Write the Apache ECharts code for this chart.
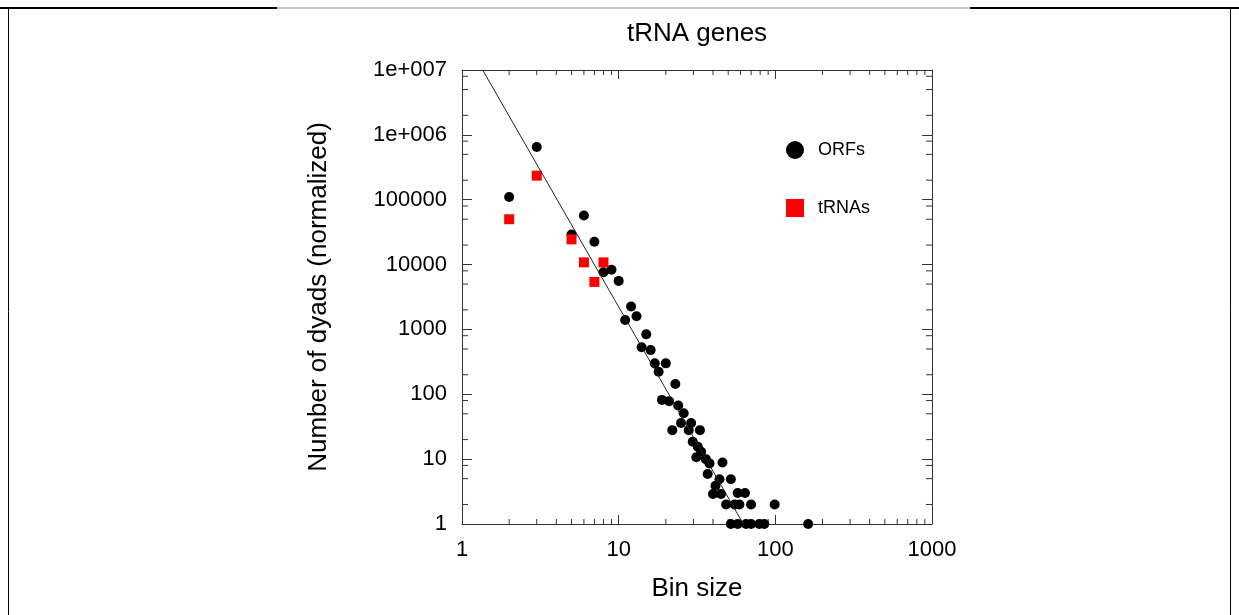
<!DOCTYPE html>
<html><head><meta charset="utf-8">
<script src="https://cdn.jsdelivr.net/npm/echarts@6/dist/echarts.min.js"></script>
<style>html,body{margin:0;padding:0;background:#fff}#c{width:1239px;height:615px}</style>
</head><body><div id="c"></div>
<script>
// ORFs (black circles)
const orfX = [2, 3, 5, 6, 7, 8, 9, 10, 11, 12, 13, 14, 15, 16, 17, 18, 18.9, 20, 21, 22, 23, 24, 25, 26, 28, 29, 29.7, 31.3, 32, 33, 33.6, 36, 37, 38, 40, 41.5, 44, 45, 46, 48.5, 52, 55, 57.5, 59, 64, 70, 99, 52, 57.5, 65, 70, 79, 85, 162];
const orfY = [110000, 650000, 29000, 57000, 22500, 7600, 8300, 5600, 1400, 2250, 1600, 530, 840, 480, 300, 223, 82, 300, 78, 28, 144, 67, 36, 51, 28, 36, 18.5, 10.7, 15.5, 28, 13, 10, 5.9, 8.6, 2.9, 3.9, 4.9, 2.9, 8.9, 2, 4.9, 2, 3, 2, 3, 2, 2, 1, 1, 1, 1, 1, 1, 1];
// tRNAs (red squares)
const trnaX = [2, 3, 5, 6, 7, 8];
const trnaY = [50000, 235000, 24500, 10800, 5400, 10800];
// fitted power-law line
const fitX = [1.355, 62.5];
const fitY = [10000000, 1];
// tick labels
const yTickLabels = ['1', '10', '100', '1000', '10000', '100000', '1e+006', '1e+007'];
const xTickLabels = ['1', '10', '100', '1000'];
const xMinorMult = [2, 3, 4, 5, 6, 7, 8, 9];
const yMinorMult = [2, 5, 8];

const xMinor = [];
[1, 10, 100].forEach(d => xMinorMult.forEach(m => xMinor.push([m * d, 1])));
const yMinor = [];
[1, 10, 100, 1000, 10000, 100000, 1000000].forEach(d => yMinorMult.forEach(m => yMinor.push([1, m * d])));

const FONT = 'Liberation Sans, Arial, sans-serif';
const AX = '#333';

const chart = echarts.init(document.getElementById('c'), null, {renderer: 'canvas'});
const option = {
  animation: false,
  backgroundColor: '#fff',
  title: {
    text: 'tRNA genes', left: 697, top: 21, textAlign: 'center', padding: 0,
    textStyle: {fontFamily: FONT, fontSize: 26, fontWeight: 'normal', color: '#000'}
  },
  legend: {
    orient: 'vertical', left: 786, top: 141, itemGap: 40, padding: 0,
    itemWidth: 18, itemHeight: 18,
    textStyle: {fontFamily: FONT, fontSize: 18, color: '#000', padding: [0, 0, 0, 9]},
    data: [
      {name: 'ORFs', icon: 'circle'},
      {name: 'tRNAs', icon: 'rect'}
    ]
  },
  grid: {left: 462, top: 70, width: 470, height: 454, containLabel: false},
  xAxis: [{
    type: 'log', logBase: 10, min: 1, max: 1000, splitNumber: 3,
    name: 'Bin size', nameLocation: 'middle', nameGap: 52,
    nameTextStyle: {fontFamily: FONT, fontSize: 26, color: '#000'},
    axisLine: {show: true, lineStyle: {color: AX, width: 1}},
    axisTick: {show: true, inside: true, length: 9, lineStyle: {color: AX}},
    axisLabel: {fontFamily: FONT, fontSize: 22, color: '#000', margin: 15,
      formatter: v => xTickLabels[Math.round(Math.log10(v))]},
    splitLine: {show: false}
  }, {
    type: 'log', logBase: 10, min: 1, max: 1000, splitNumber: 3, position: 'top',
    axisLine: {show: true, lineStyle: {color: AX, width: 1}},
    axisTick: {show: true, inside: true, length: 9, lineStyle: {color: AX}},
    axisLabel: {show: false}, splitLine: {show: false}
  }],
  yAxis: [{
    type: 'log', logBase: 10, min: 1, max: 10000000, splitNumber: 7,
    name: 'Number of dyads (normalized)', nameLocation: 'middle', nameGap: 130,
    nameTextStyle: {fontFamily: FONT, fontSize: 26, color: '#000'},
    axisLine: {show: true, lineStyle: {color: AX, width: 1}},
    axisTick: {show: true, inside: true, length: 10, lineStyle: {color: AX}},
    axisLabel: {fontFamily: FONT, fontSize: 22, color: '#000', margin: 15,
      formatter: v => yTickLabels[Math.round(Math.log10(v))]},
    splitLine: {show: false}
  }, {
    type: 'log', logBase: 10, min: 1, max: 10000000, splitNumber: 7, position: 'right',
    axisLine: {show: true, lineStyle: {color: AX, width: 1}},
    axisTick: {show: true, inside: true, length: 10, lineStyle: {color: AX}},
    axisLabel: {show: false}, splitLine: {show: false}
  }],
  series: [
    {
      type: 'custom', name: 'xminor', silent: true, clip: false,
      data: xMinor,
      renderItem: (params, api) => {
        const x = api.value(0);
        const b = api.coord([x, 1]);
        const t = api.coord([x, 10000000]);
        const s = {stroke: AX, lineWidth: 1};
        return {type: 'group', children: [
          {type: 'line', shape: {x1: b[0], y1: b[1], x2: b[0], y2: b[1] - 5}, style: s},
          {type: 'line', shape: {x1: t[0], y1: t[1], x2: t[0], y2: t[1] + 5}, style: s}
        ]};
      }
    },
    {
      type: 'custom', name: 'yminor', silent: true, clip: false,
      data: yMinor,
      renderItem: (params, api) => {
        const y = api.value(1);
        const l = api.coord([1, y]);
        const r = api.coord([1000, y]);
        const s = {stroke: AX, lineWidth: 1};
        return {type: 'group', children: [
          {type: 'line', shape: {x1: l[0], y1: l[1], x2: l[0] + 6, y2: l[1]}, style: s},
          {type: 'line', shape: {x1: r[0], y1: r[1], x2: r[0] - 6, y2: r[1]}, style: s}
        ]};
      }
    },
    {
      name: 'ORFs', type: 'scatter', symbol: 'circle', symbolSize: 10,
      itemStyle: {color: '#000', opacity: 1},
      data: orfX.map((x, i) => [x, orfY[i]]), z: 3
    },
    {
      name: 'tRNAs', type: 'scatter', symbol: 'rect', symbolSize: 10,
      itemStyle: {color: '#ff0000', opacity: 1},
      data: trnaX.map((x, i) => [x, trnaY[i]]), z: 4
    },
    {
      name: 'fit', type: 'line', showSymbol: false, symbol: 'none',
      lineStyle: {color: '#222', width: 1},
      data: fitX.map((x, i) => [x, fitY[i]]), z: 5
    }
  ],
  graphic: [
    {type: 'line', shape: {x1: 0, y1: 8, x2: 1239, y2: 8}, style: {stroke: '#888', lineWidth: 1}, silent: true},
    {type: 'line', shape: {x1: 0, y1: 8, x2: 277, y2: 8}, style: {stroke: '#000', lineWidth: 2}, silent: true},
    {type: 'line', shape: {x1: 970, y1: 8, x2: 1239, y2: 8}, style: {stroke: '#000', lineWidth: 2}, silent: true},
    {type: 'line', shape: {x1: 8.5, y1: 8, x2: 8.5, y2: 615}, style: {stroke: '#000', lineWidth: 1}, silent: true},
    {type: 'line', shape: {x1: 1230.5, y1: 8, x2: 1230.5, y2: 615}, style: {stroke: '#000', lineWidth: 1}, silent: true}
  ]
};
chart.setOption(option);
</script>
</body></html>
